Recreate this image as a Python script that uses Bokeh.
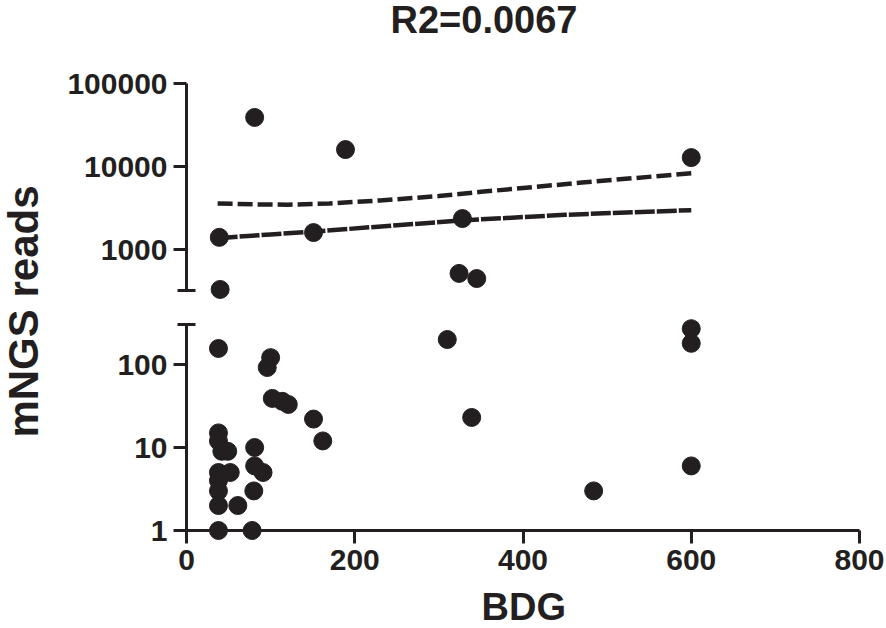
from bokeh.plotting import figure
from bokeh.models import (Range1d, LogScale, LogAxis, LinearAxis, FixedTicker,
                          NumeralTickFormatter, CustomJSTickFormatter, Title)
from bokeh.embed import file_html
from bokeh.resources import INLINE

# ---------------- data ----------------
title_text = "R2=0.0067"
x_label = "BDG"
y_label = "mNGS reads"

x_ticks = [0, 200, 400, 600, 800]
y_ticks_lower = [1, 10, 100]
y_ticks_upper = [1000, 10000, 100000]

# points shown in the upper (broken) segment of the y axis
upper_bdg = [81, 189, 600, 39, 151, 328, 324, 345, 40]
upper_reads = [39000, 16000, 12800, 1400, 1600, 2360, 515, 447, 330]

# points shown in the lower segment of the y axis
lower_bdg = [38, 38, 38, 42, 49, 38, 52, 38, 38, 38, 61, 38, 78,
             81, 81, 91, 80, 100, 96, 102, 114, 121, 151, 162,
             310, 339, 484, 600, 600, 600]
lower_reads = [156, 15, 12, 9, 9, 5, 5, 4, 3, 2, 2, 1, 1,
               10, 6, 5, 3, 121, 92, 39, 36, 33, 22, 12,
               200, 23, 3, 270, 180, 6]

# regression line and upper confidence band
fit_bdg = [37, 100, 150, 250, 330, 450, 600]
fit_reads = [1370, 1520, 1640, 1960, 2250, 2620, 2980]

ci_bdg = [37, 80, 120, 170, 230, 300, 350, 470, 600]
ci_reads = [3580, 3500, 3470, 3580, 3900, 4400, 4950, 6400, 8300]

# extent of the two y-axis segments
upper_segment = (10 ** 2.506, 100000)
lower_segment = (1, 10 ** 2.482)

# ---------------- layout (canvas pixels) ----------------
INK = "#231f20"
FONT = "Liberation Sans"
W, H = 886, 628
ML, MR, MT, MB = 36, 0, 25, 31
PX_X = 673 / 800               # pixels per BDG unit
X0_PX = 186                    # pixel of BDG = 0
PX_DEC = 83.0                  # pixels per decade on both segments
Y1_PX = 530                    # pixel of reads = 1 (lower segment)
Y5_PX = 83                     # pixel of reads = 100000 (upper segment)

f_left, f_right = ML, W - MR
f_top, f_bot = MT, H - MB
x_range = Range1d(-(X0_PX - f_left) / PX_X, (f_right - X0_PX) / PX_X)
lower_range = Range1d(10 ** (-(f_bot - Y1_PX) / PX_DEC),
                      10 ** ((Y1_PX - f_top) / PX_DEC))
upper_range = Range1d(10 ** (5 - (f_bot - Y5_PX) / PX_DEC),
                      10 ** (5 + (Y5_PX - f_top) / PX_DEC))

p = figure(width=W, height=H, x_range=x_range, y_range=lower_range,
           y_axis_type="log", x_axis_location=None, y_axis_location=None,
           output_backend="svg", toolbar_location=None,
           min_border_left=ML, min_border_right=MR,
           min_border_top=MT, min_border_bottom=MB)
p.extra_y_ranges = {"upper": upper_range}
p.extra_y_scales = {"upper": LogScale()}
p.grid.visible = False
p.outline_line_color = None
p.background_fill_color = "white"
p.border_fill_color = "white"


def style_axis(ax):
    ax.axis_line_color = INK
    ax.axis_line_width = 3
    ax.major_tick_line_color = INK
    ax.major_tick_line_width = 3
    ax.major_tick_out = 13
    ax.major_tick_in = 0
    ax.minor_tick_line_color = None
    ax.major_label_text_font = FONT
    ax.major_label_text_font_style = "bold"
    ax.major_label_text_font_size = "30px"
    ax.major_label_text_color = INK
    ax.major_label_standoff = 6


# lower y axis segment
ay_low = LogAxis(fixed_location=0, bounds=lower_segment,
                 ticker=FixedTicker(ticks=y_ticks_lower),
                 formatter=NumeralTickFormatter(format="0"))
style_axis(ay_low)
p.add_layout(ay_low, "left")

# upper y axis segment
ay_up = LogAxis(y_range_name="upper", fixed_location=0, bounds=upper_segment,
                ticker=FixedTicker(ticks=y_ticks_upper),
                formatter=NumeralTickFormatter(format="0"))
style_axis(ay_up)
p.add_layout(ay_up, "left")

# end caps of the broken axis
blank = CustomJSTickFormatter(code="return ''")
cap_up = LogAxis(y_range_name="upper", fixed_location=0,
                 ticker=FixedTicker(ticks=[upper_segment[0]]), formatter=blank)
style_axis(cap_up)
cap_up.axis_line_color = None
cap_up.major_tick_in = 9
cap_up.major_tick_out = 9
p.add_layout(cap_up, "left")

cap_low = LogAxis(fixed_location=0,
                  ticker=FixedTicker(ticks=[lower_segment[1]]), formatter=blank)
style_axis(cap_low)
cap_low.axis_line_color = None
cap_low.major_tick_in = 9
cap_low.major_tick_out = 9
p.add_layout(cap_low, "left")

# x axis at y = 1
ax_x = LinearAxis(fixed_location=1, bounds=(0, 800),
                  ticker=FixedTicker(ticks=x_ticks))
style_axis(ax_x)
p.add_layout(ax_x, "below")

# titles
p.add_layout(Title(text=title_text, align="left", offset=354,
                   vertical_align="bottom", text_font=FONT,
                   text_font_style="bold", text_font_size="38px",
                   text_color=INK, standoff=-30), "above")
p.add_layout(Title(text=x_label, align="left", offset=445,
                   vertical_align="top", text_font=FONT,
                   text_font_style="bold", text_font_size="38px",
                   text_color=INK, standoff=-24), "below")
p.add_layout(Title(text=y_label, align="center", vertical_align="bottom",
                   text_font=FONT, text_font_style="bold",
                   text_font_size="42px", text_color=INK, standoff=-20), "left")

# glyphs
p.line(ci_bdg, ci_reads, y_range_name="upper", line_color=INK,
       line_width=4.5, line_dash="15 5")
p.line(fit_bdg, fit_reads, y_range_name="upper", line_color=INK,
       line_width=4.5, line_dash="20 2")
p.scatter(upper_bdg, upper_reads, y_range_name="upper", size=18,
          fill_color=INK, line_color=INK)
p.scatter(lower_bdg, lower_reads, size=18, fill_color=INK, line_color=INK)

open("out.html", "w").write(file_html(p, INLINE))
